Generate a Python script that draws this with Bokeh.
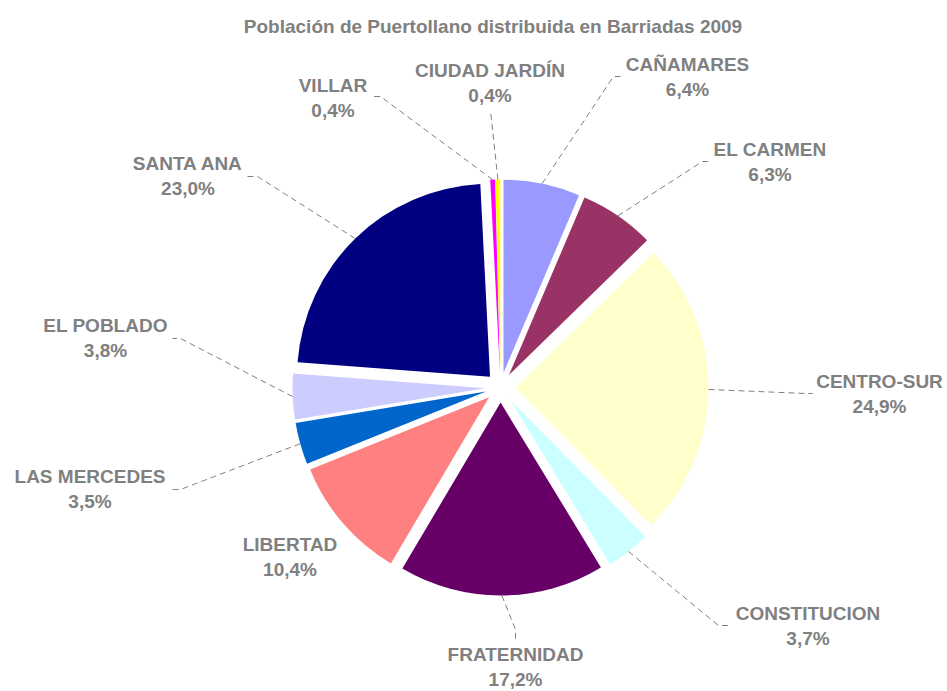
import numpy as np
from bokeh.plotting import figure
from bokeh.models import Range1d, ColumnDataSource
from bokeh.core.properties import value
from bokeh.embed import file_html
from bokeh.resources import INLINE

# ---------------- data ----------------
titulo = "Población de Puertollano distribuida en Barriadas 2009"
barriadas = ["CAÑAMARES", "EL CARMEN", "CENTRO-SUR", "CONSTITUCION", "FRATERNIDAD",
             "LIBERTAD", "LAS MERCEDES", "EL POBLADO", "SANTA ANA", "VILLAR", "CIUDAD JARDÍN"]
porcentajes = [6.4, 6.3, 24.9, 3.7, 17.2, 10.4, 3.5, 3.8, 23.0, 0.4, 0.4]
colores = ["#9999FF", "#993366", "#FFFFCC", "#CCFFFF", "#660066",
           "#FF8080", "#0066CC", "#CCCCFF", "#000080", "#FF00FF", "#FFFF00"]

# ---------------- layout (picture pixels) ----------------
W, H = 947, 691
CX, CY = 500, 387
R = 193
EXPLODE = 15
FONT = value("Liberation Sans")
GRAY = "#808080"

label_pos = {
    "CAÑAMARES": (687, 64),
    "EL CARMEN": (769.5, 149),
    "CENTRO-SUR": (879, 381),
    "CONSTITUCION": (807.5, 613),
    "FRATERNIDAD": (515, 654),
    "LIBERTAD": (289.5, 544),
    "LAS MERCEDES": (89.5, 476),
    "EL POBLADO": (105, 325),
    "SANTA ANA": (187.5, 163),
    "VILLAR": (332.5, 84.5),
    "CIUDAD JARDÍN": (489.5, 70),
}
leader_pts = {
    "CAÑAMARES": [(613, 76), (622, 76)],
    "EL CARMEN": [(702, 161), (709, 161)],
    "CENTRO-SUR": [(805, 393), (812, 393)],
    "CONSTITUCION": [(718, 625), (730, 625)],
    "FRATERNIDAD": [(515, 629), (515, 639)],
    "LIBERTAD": None,
    "LAS MERCEDES": [(180, 489), (170, 489)],
    "EL POBLADO": [(180, 338), (172, 338)],
    "SANTA ANA": [(257, 176), (247, 176)],
    "VILLAR": [(380, 96), (370, 96)],
    "CIUDAD JARDÍN": [(490, 110)],
}
LINE_GAP = 25


def yd(Y):
    return H - Y


p = figure(width=W, height=H, x_range=Range1d(0, W), y_range=Range1d(0, H),
           output_backend="svg", toolbar_location=None, min_border=0,
           x_axis_type=None, y_axis_type=None)
p.grid.visible = False
p.outline_line_color = None
p.background_fill_color = "white"

vals = np.array(porcentajes, dtype=float)
frac = vals / vals.sum()
cum = np.concatenate([[0.0], np.cumsum(frac)])
start = np.pi / 2 - 2 * np.pi * cum[:-1]
end = np.pi / 2 - 2 * np.pi * cum[1:]
mid = (start + end) / 2
wx = CX + EXPLODE * np.cos(mid)
wy = yd(CY) + EXPLODE * np.sin(mid)

src = ColumnDataSource(dict(x=wx, y=wy, start=start, end=end, color=colores, name=barriadas))
p.wedge(x="x", y="y", radius=R, start_angle="start", end_angle="end", direction="clock",
        fill_color="color", line_color=None, source=src)

# leader lines
xs, ys = [], []
for i, name in enumerate(barriadas):
    pts = leader_pts[name]
    if not pts:
        continue
    sx = wx[i] + R * np.cos(mid[i])
    sy = wy[i] + R * np.sin(mid[i])
    lx = [sx] + [a for a, b in pts]
    ly = [sy] + [yd(b) for a, b in pts]
    xs.append(lx)
    ys.append(ly)
p.multi_line(xs=xs, ys=ys, line_color=GRAY, line_width=1, line_dash="6 4")

# labels
lab_x = [label_pos[n][0] for n in barriadas]
lab_y = [yd(label_pos[n][1]) for n in barriadas]
pct_y = [yd(label_pos[n][1] + LINE_GAP) for n in barriadas]
pct_txt = [f"{v:.1f}".replace(".", ",") + "%" for v in porcentajes]
common = dict(text_font=FONT, text_font_style="bold", text_font_size="19px",
              text_color=GRAY, text_align="center", text_baseline="middle")
p.text(x=lab_x, y=lab_y, text=barriadas, **common)
p.text(x=lab_x, y=pct_y, text=pct_txt, **common)

# title
p.text(x=[492.5], y=[yd(26)], text=[titulo], **common)

open("out.html", "w").write(file_html(p, INLINE))
